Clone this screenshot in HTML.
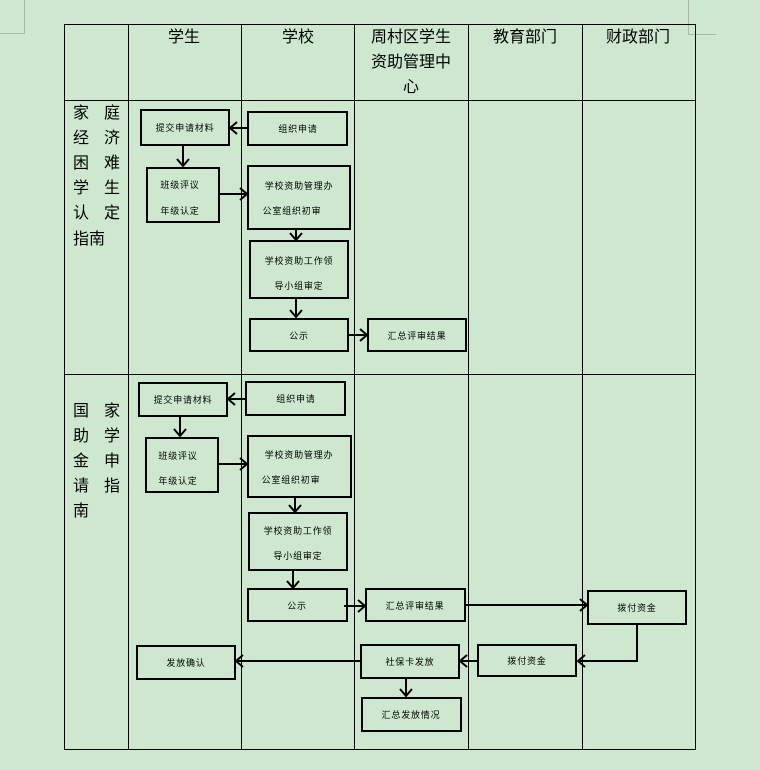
<!DOCTYPE html>
<html><head><meta charset="utf-8"><style>
html,body{margin:0;padding:0;background:#cde8cf;}
svg{display:block}
.h{font-family:"Liberation Sans","Noto Sans CJK SC",sans-serif;font-size:16px;fill:#000}
.b{font-family:"Liberation Sans","Noto Sans CJK SC",sans-serif;font-size:9px;fill:#000;letter-spacing:0.8px}
</style></head><body>
<svg width="760" height="770" viewBox="0 0 760 770" xmlns="http://www.w3.org/2000/svg">
<rect width="760" height="770" fill="#cde8cf"/>
<g stroke="#a9b8aa" stroke-width="1" fill="none">
<path d="M24.5 0V33.5H0"/><path d="M688.5 0V34.5H716"/>
</g>
<g stroke="#000" stroke-width="1" fill="none">
<rect x="64.5" y="24.5" width="631" height="725"/>
<path d="M128.5 24V750M241.5 24V750M354.5 24V750M468.5 24V750M582.5 24V750M64 100.5H696M64 374.5H696"/>
</g>
<g class="h" text-anchor="middle">
<text x="184" y="42">学生</text>
<text x="298" y="42">学校</text>
<text x="411" y="42">周村区学生</text>
<text x="411" y="67">资助管理中</text>
<text x="411" y="92">心</text>
<text x="525" y="42">教育部门</text>
<text x="638" y="42">财政部门</text>
</g>
<g class="h">
<text x="73" y="118">家</text><text x="104" y="118">庭</text>
<text x="73" y="143">经</text><text x="104" y="143">济</text>
<text x="73" y="168">困</text><text x="104" y="168">难</text>
<text x="73" y="193">学</text><text x="104" y="193">生</text>
<text x="73" y="218">认</text><text x="104" y="218">定</text>
<text x="73" y="244">指南</text>
<text x="73" y="416">国</text><text x="104" y="416">家</text>
<text x="73" y="441">助</text><text x="104" y="441">学</text>
<text x="73" y="466">金</text><text x="104" y="466">申</text>
<text x="73" y="491">请</text><text x="104" y="491">指</text>
<text x="73" y="516">南</text>
</g>
<g stroke="#000" stroke-width="2" fill="none">
<rect x="141" y="110" width="88" height="35"/>
<rect x="248" y="112" width="99" height="33"/>
<rect x="147" y="168" width="72" height="54"/>
<rect x="248" y="166" width="102" height="63"/>
<rect x="250" y="241" width="98" height="57"/>
<rect x="250" y="319" width="98" height="32"/>
<rect x="368" y="319" width="98" height="32"/>
<rect x="139" y="383" width="88" height="33"/>
<rect x="246" y="382" width="99" height="33"/>
<rect x="146" y="438" width="72" height="54"/>
<rect x="248" y="436" width="103" height="61"/>
<rect x="249" y="513" width="98" height="57"/>
<rect x="248" y="589" width="99" height="32"/>
<rect x="366" y="589" width="99" height="32"/>
<rect x="588" y="591" width="98" height="33"/>
<rect x="478" y="645" width="98" height="31"/>
<rect x="361" y="645" width="98" height="33"/>
<rect x="137" y="646" width="98" height="33"/>
<rect x="362" y="698" width="99" height="33"/>
</g>
<g stroke="#000" stroke-width="2" fill="none">
<path d="M248 128H230M237 122L230 128L237 134"/>
<path d="M183 145V166M177 159L183 166L189 159"/>
<path d="M219 194H247M240 188L247 194L240 200"/>
<path d="M296 229V240M290 233L296 240L302 233"/>
<path d="M296 298V317M290 310L296 317L302 310"/>
<path d="M348 335H367M360 329L367 335L360 341"/>
<path d="M246 399H228M235 393L228 399L235 405"/>
<path d="M180 416V436M174 429L180 436L186 429"/>
<path d="M218 464H247M240 458L247 464L240 470"/>
<path d="M295 497V512M289 505L295 512L301 505"/>
<path d="M293 570V588M287 581L293 588L299 581"/>
<path d="M344 606H365M358 600L365 606L358 612"/>
<path d="M465 605H587M580 599L587 605L580 611"/>
<path d="M637 624V661H578M585 655L578 661L585 667"/>
<path d="M478 661H460M467 655L460 661L467 667"/>
<path d="M361 661H236M243 655L236 661L243 667"/>
<path d="M406 678V696M400 689L406 696L412 689"/>
</g>
<g class="b" text-anchor="middle">
<text x="185" y="131">提交申请材料</text>
<text x="298" y="132">组织申请</text>
<text x="180" y="188">班级评议</text>
<text x="180" y="214">年级认定</text>
<text x="299" y="189">学校资助管理办</text>
<text x="292" y="214">公室组织初审</text>
<text x="299" y="264">学校资助工作领</text>
<text x="299" y="289">导小组审定</text>
<text x="299" y="339">公示</text>
<text x="417" y="339">汇总评审结果</text>
<text x="183" y="403">提交申请材料</text>
<text x="296" y="402">组织申请</text>
<text x="178" y="459">班级评议</text>
<text x="178" y="484">年级认定</text>
<text x="299" y="458">学校资助管理办</text>
<text x="291" y="483">公室组织初审</text>
<text x="298" y="534">学校资助工作领</text>
<text x="298" y="559">导小组审定</text>
<text x="297" y="609">公示</text>
<text x="415" y="609">汇总评审结果</text>
<text x="637" y="611">拨付资金</text>
<text x="527" y="664">拨付资金</text>
<text x="410" y="665">社保卡发放</text>
<text x="186" y="666">发放确认</text>
<text x="411" y="718">汇总发放情况</text>
</g>
</svg>
</body></html>
